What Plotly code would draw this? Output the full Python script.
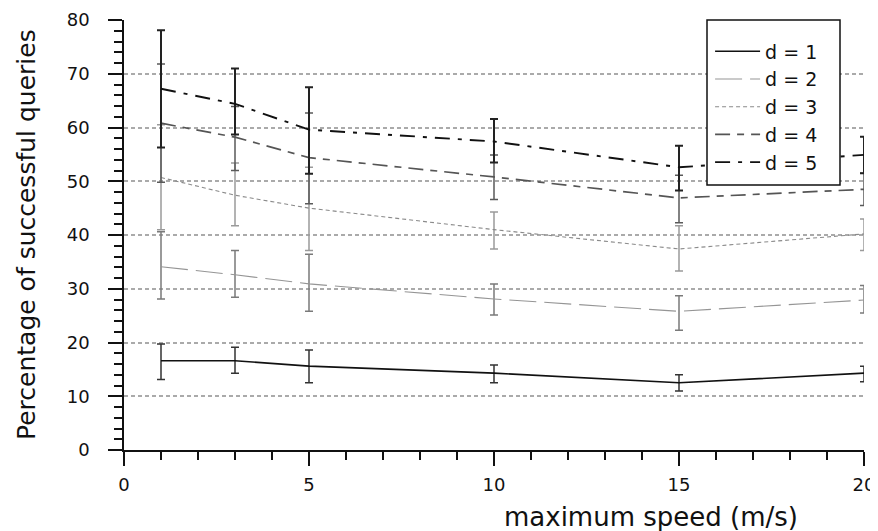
import plotly.graph_objects as go

speeds = [1, 3, 5, 10, 15, 20]

d1_mean = [16.6, 16.6, 15.6, 14.3, 12.5, 14.3]
d1_low = [13.1, 14.3, 12.5, 12.5, 11.0, 12.7]
d1_high = [19.7, 19.1, 18.6, 15.8, 14.0, 15.6]

d2_mean = [34.1, 32.6, 30.9, 28.1, 25.8, 27.9]
d2_low = [28.1, 28.4, 25.8, 25.1, 22.3, 25.5]
d2_high = [40.6, 37.1, 36.4, 30.9, 28.7, 30.6]

d3_mean = [50.7, 47.4, 45.0, 41.0, 37.4, 40.2]
d3_low = [41.0, 41.7, 37.1, 37.4, 33.3, 37.1]
d3_high = [60.5, 53.4, 52.6, 44.3, 41.7, 43.0]

d4_mean = [60.8, 58.2, 54.4, 50.8, 46.9, 48.5]
d4_low = [49.8, 52.0, 45.8, 46.6, 42.3, 45.5]
d4_high = [71.8, 63.9, 62.7, 54.9, 51.1, 51.5]

d5_mean = [67.2, 64.4, 59.6, 57.4, 52.6, 54.9]
d5_low = [56.3, 58.7, 51.4, 53.5, 48.3, 51.5]
d5_high = [78.1, 71.0, 67.5, 61.6, 56.6, 58.3]

series_names = ["d = 1", "d = 2", "d = 3", "d = 4", "d = 5"]
x_title = "maximum speed (m/s)"
y_title = "Percentage of successful queries"

series = [
    (d1_mean, d1_low, d1_high, dict(color="#111111", width=1.6, dash="solid"), "#333333", 1.5),
    (d2_mean, d2_low, d2_high, dict(color="#959595", width=1.1, dash="27px,8px"), "#7a7a7a", 1.5),
    (d3_mean, d3_low, d3_high, dict(color="#8a8a8a", width=1.1, dash="4px,3px"), "#9a9a9a", 1.5),
    (d4_mean, d4_low, d4_high, dict(color="#555555", width=1.7, dash="15px,7px,7px,7px"), "#5a5a5a", 1.5),
    (d5_mean, d5_low, d5_high, dict(color="#111111", width=1.9, dash="15px,8px,4px,8px"), "#222222", 2),
]

fig = go.Figure()
for name, (mean, low, high, line, ecol, ew) in zip(series_names, series):
    plus = [h - m for h, m in zip(high, mean)]
    minus = [m - l for m, l in zip(mean, low)]
    fig.add_trace(go.Scatter(
        x=speeds, y=mean, mode="lines", name=name, line=line,
        legendgroup=name,
        error_y=dict(type="data", symmetric=False, array=plus, arrayminus=minus,
                     color=ecol, thickness=ew, width=4),
    ))

font_family = "DejaVu Sans"
# page body adds an 8px offset; figure is sized so that it fills the window
fig.update_layout(
    width=870, height=523,
    margin=dict(l=116, r=14, t=12, b=81, autoexpand=False),
    paper_bgcolor="white", plot_bgcolor="white",
    font=dict(family=font_family, color="#111111", size=18),
    showlegend=True,
    legend=dict(
        x=0.792, y=0.971, xanchor="left", yanchor="top",
        bgcolor="rgba(0,0,0,0)", borderwidth=0,
        font=dict(family=font_family, size=19, color="#111111"),
        tracegroupgap=0, itemwidth=45,
    ),
    shapes=[dict(
        type="rect", xref="paper", yref="paper",
        x0=(707 - 124) / 740, x1=(840 - 124) / 740,
        y0=(450 - 185) / 430, y1=1.0,
        fillcolor="white", line=dict(color="#111111", width=1.5), layer="above",
    )],
    xaxis=dict(
        range=[0, 20], tickvals=[0, 5, 10, 15, 20], automargin=False,
        ticks="outside", ticklen=14, tickwidth=1.5, tickcolor="#111111",
        minor=dict(dtick=1, ticks="outside", ticklen=8, tickwidth=1.5, tickcolor="#111111", showgrid=False),
        showline=True, linecolor="#111111", linewidth=1.5,
        showgrid=False, zeroline=False,
        tickfont=dict(size=18), ticklabelstandoff=4,
    ),
    yaxis=dict(
        range=[0, 80], dtick=10, automargin=False,
        ticks="outside", ticklen=14, tickwidth=1.5, tickcolor="#111111",
        minor=dict(dtick=2, ticks="outside", ticklen=8, tickwidth=1.5, tickcolor="#111111", showgrid=False),
        showline=True, linecolor="#111111", linewidth=1.5,
        showgrid=True, gridcolor="#aaaaaa", gridwidth=1.5, griddash="4px,3px",
        zeroline=False,
        tickfont=dict(size=18), ticklabelstandoff=15,
    ),
    annotations=[
        dict(text=x_title, xref="paper", yref="paper",
             x=(651 - 124) / 740, y=(450 - 517) / 430, xanchor="center", yanchor="middle",
             showarrow=False, font=dict(size=26, family=font_family, color="#111111")),
        dict(text=y_title, xref="paper", yref="paper", textangle=-90,
             x=(26 - 124) / 740, y=(450 - 235) / 430, xanchor="center", yanchor="middle",
             showarrow=False, font=dict(size=25, family=font_family, color="#111111")),
    ],
)

fig.write_html("out.html")
